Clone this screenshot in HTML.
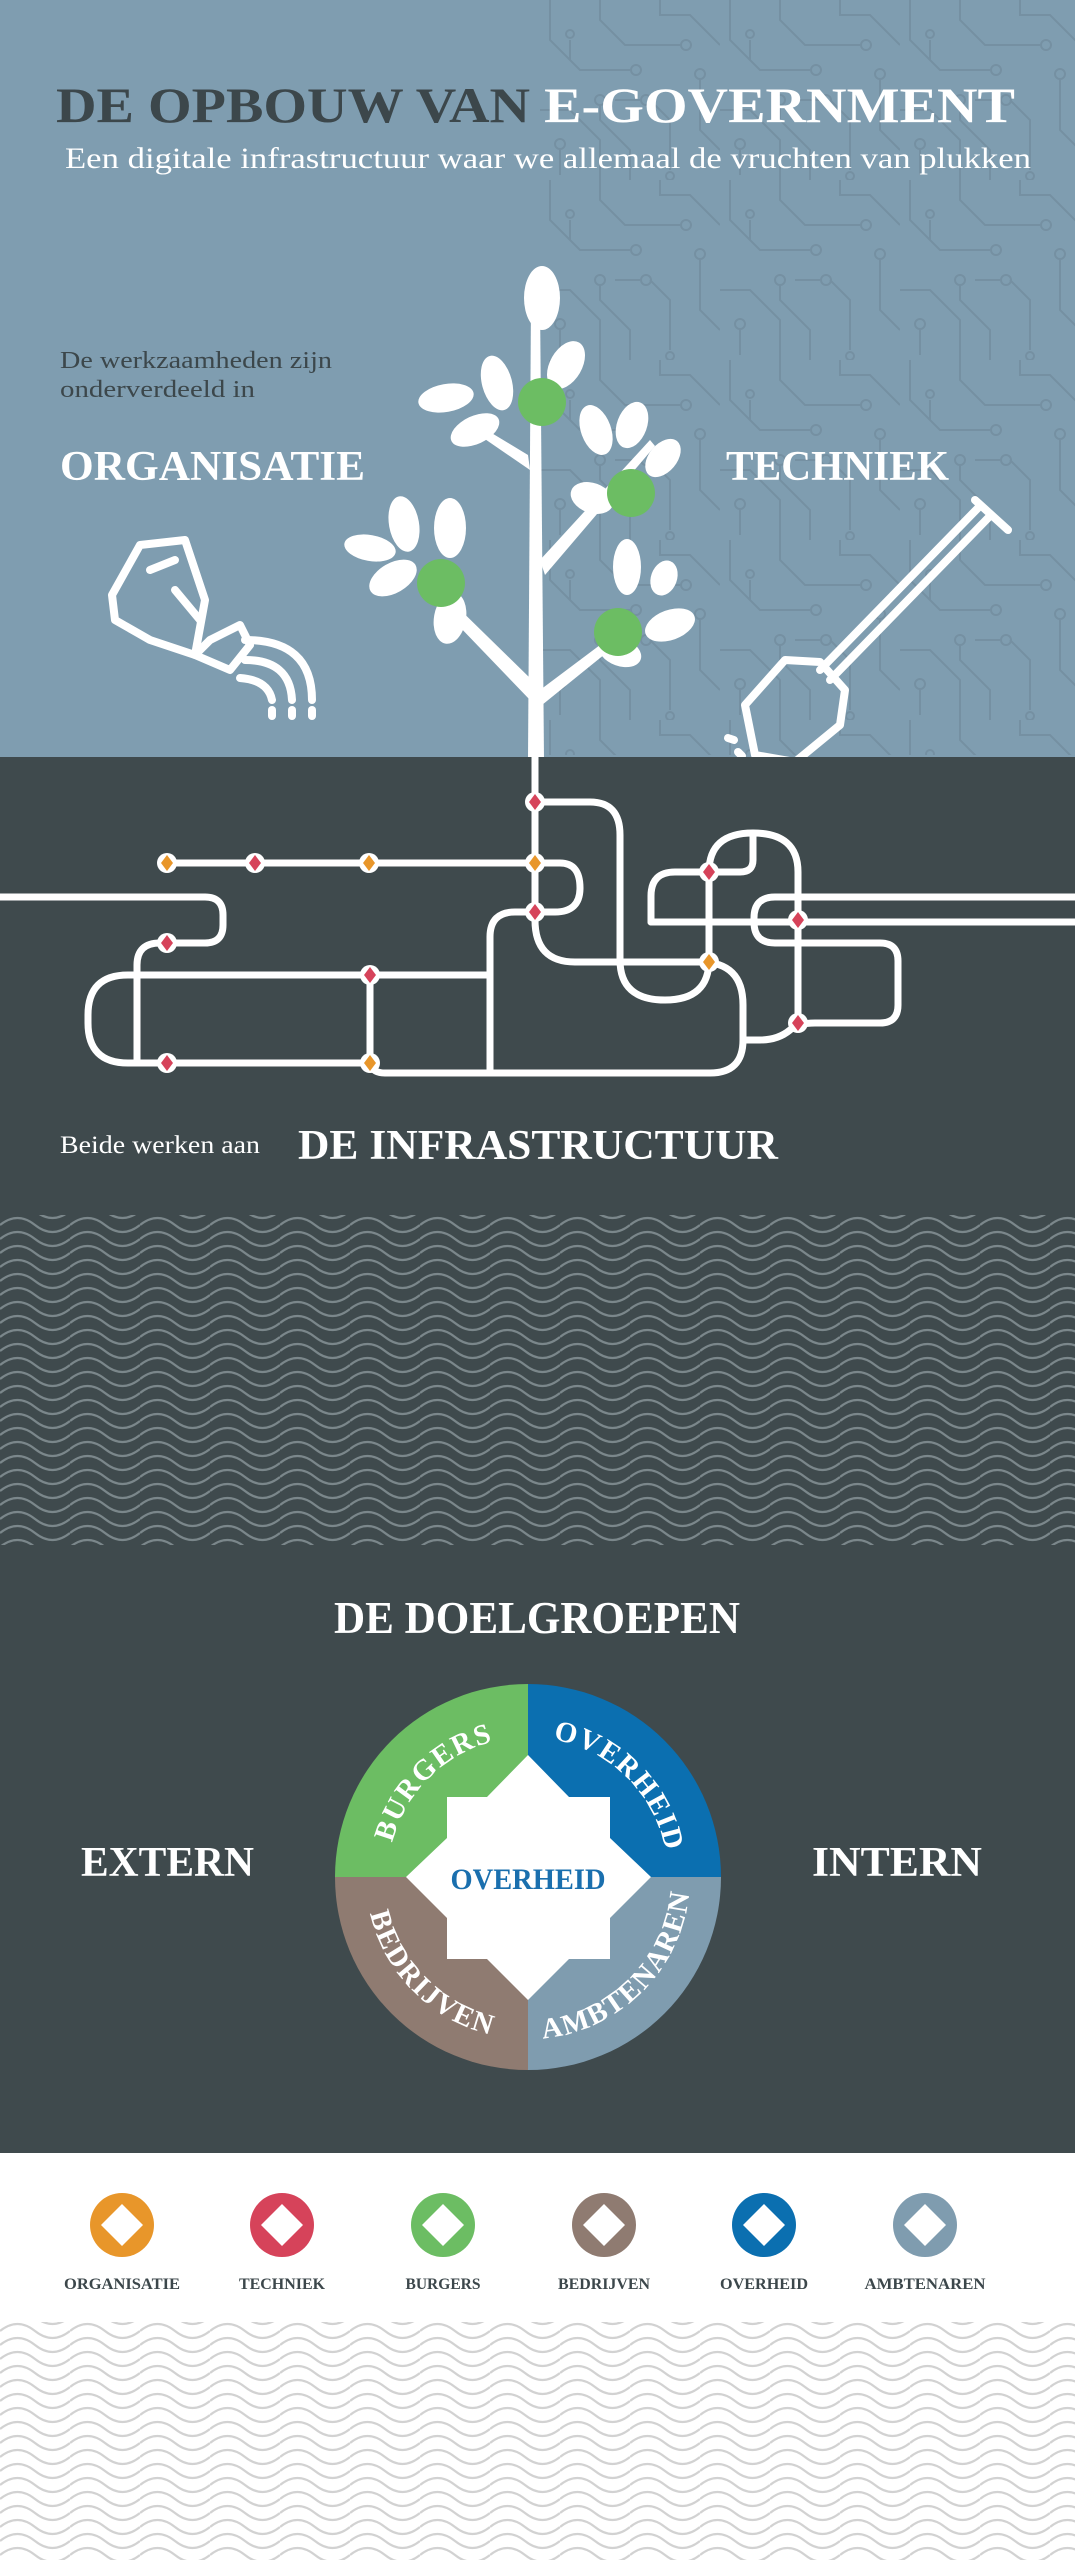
<!DOCTYPE html>
<html><head><meta charset="utf-8"><style>
html,body{margin:0;padding:0;background:#fff}
svg{display:block}
text{font-family:"Liberation Serif",serif}
.b{font-weight:bold}
</style></head><body>
<svg width="1075" height="2560" viewBox="0 0 1075 2560" xmlns="http://www.w3.org/2000/svg">
<defs>
<pattern id="circ" width="180" height="180" patternUnits="userSpaceOnUse">
<g fill="none" stroke="#7590a2" stroke-width="2">
<path d="M10 0 V40 L40 70 H90"/><circle cx="96" cy="70" r="5"/>
<path d="M60 0 V20 L85 45 H140"/><circle cx="146" cy="45" r="5"/>
<path d="M120 0 V15 L150 15 L180 45"/>
<path d="M0 110 H30 L60 140 V180"/><circle cx="60" cy="100" r="5"/><path d="M60 105 V120 L90 150 V180"/>
<path d="M110 100 L130 120 V170"/><circle cx="130" cy="176" r="4"/>
<path d="M160 80 V130 L180 150"/><circle cx="160" cy="74" r="5"/>
<path d="M20 150 V175"/><circle cx="20" cy="144" r="5"/>
<path d="M100 100 H75"/><circle cx="106" cy="100" r="5"/>
<path d="M30 40 L30 60"/><circle cx="30" cy="34" r="4"/>
</g></pattern>
<pattern id="wd" width="70" height="14" patternUnits="userSpaceOnUse">
<g fill="none" stroke="#7b878b" stroke-width="2.2">
<path d="M0 7 q17.5 -14 35 0 t35 0"/><path d="M0 -7 q17.5 -14 35 0 t35 0"/><path d="M0 21 q17.5 -14 35 0 t35 0"/>
</g></pattern>
<pattern id="ww" width="70" height="14" patternUnits="userSpaceOnUse">
<g fill="none" stroke="#d2d2d2" stroke-width="2.2">
<path d="M0 7 q17.5 -14 35 0 t35 0"/><path d="M0 -7 q17.5 -14 35 0 t35 0"/><path d="M0 21 q17.5 -14 35 0 t35 0"/>
</g></pattern>
<clipPath id="topclip"><rect x="540" y="0" width="535" height="755"/></clipPath>
<g id="nr"><circle r="10" fill="#fff"/><path d="M0 -8 L6 0 L0 8 L-6 0Z" fill="#d6435a"/></g>
<g id="no"><circle r="10" fill="#fff"/><path d="M0 -8 L6 0 L0 8 L-6 0Z" fill="#e8962a"/></g>
</defs>

<rect x="0" y="0" width="1075" height="757" fill="#7f9db0"/>
<rect x="540" y="0" width="535" height="757" fill="url(#circ)" clip-path="url(#topclip)"/>

<text x="56" y="122" font-size="50" class="b" textLength="959" lengthAdjust="spacingAndGlyphs" fill="#3c474b"><tspan>DE OPBOUW VAN </tspan><tspan fill="#fff">E-GOVERNMENT</tspan></text>
<text x="65" y="168" font-size="30" fill="#fff" textLength="966" lengthAdjust="spacingAndGlyphs">Een digitale infrastructuur waar we allemaal de vruchten van plukken</text>
<text x="60" y="368" font-size="24" fill="#3c474b" textLength="272" lengthAdjust="spacingAndGlyphs">De werkzaamheden zijn</text>
<text x="60" y="397" font-size="24" fill="#3c474b" textLength="195" lengthAdjust="spacingAndGlyphs">onderverdeeld in</text>
<text x="60" y="480" font-size="42" class="b" fill="#fff" textLength="305" lengthAdjust="spacingAndGlyphs">ORGANISATIE</text>
<text x="726" y="480" font-size="42" class="b" fill="#fff" textLength="223" lengthAdjust="spacingAndGlyphs">TECHNIEK</text>

<g fill="#fff">
<path d="M531 300 L540 300 L544 760 L528 760 Z"/>
<path d="M540 560 L650 440 L655 446 L545 575Z"/>
<path d="M528 455 L470 420 L466 426 L530 470Z"/>
<path d="M532 680 L440 590 L432 598 L530 700Z"/>
<path d="M540 690 L620 630 L626 637 L542 705Z"/>
<ellipse cx="542" cy="298" rx="18" ry="32"/>
<ellipse cx="566" cy="365" rx="16" ry="26" transform="rotate(30 566 365)"/>
<ellipse cx="497" cy="383" rx="15" ry="28" transform="rotate(-15 497 383)"/>
<ellipse cx="446" cy="398" rx="28" ry="14" transform="rotate(-10 446 398)"/>
<ellipse cx="475" cy="430" rx="26" ry="14" transform="rotate(-25 475 430)"/>
<ellipse cx="596" cy="430" rx="15" ry="26" transform="rotate(-20 596 430)"/>
<ellipse cx="632" cy="425" rx="15" ry="24" transform="rotate(20 632 425)"/>
<ellipse cx="663" cy="458" rx="14" ry="22" transform="rotate(40 663 458)"/>
<ellipse cx="592" cy="498" rx="22" ry="15" transform="rotate(20 592 498)"/>
<ellipse cx="404" cy="524" rx="15" ry="28" transform="rotate(-10 404 524)"/>
<ellipse cx="450" cy="528" rx="16" ry="30"/>
<ellipse cx="370" cy="548" rx="26" ry="13" transform="rotate(10 370 548)"/>
<ellipse cx="393" cy="578" rx="26" ry="15" transform="rotate(-30 393 578)"/>
<ellipse cx="450" cy="618" rx="16" ry="26" transform="rotate(10 450 618)"/>
<ellipse cx="627" cy="567" rx="14" ry="28"/>
<ellipse cx="664" cy="578" rx="13" ry="18" transform="rotate(20 664 578)"/>
<ellipse cx="670" cy="625" rx="26" ry="15" transform="rotate(-20 670 625)"/>
<ellipse cx="620" cy="652" rx="22" ry="14" transform="rotate(20 620 652)"/>
</g>
<g fill="#6cbd63">
<circle cx="542" cy="402" r="24"/><circle cx="631" cy="493" r="24"/><circle cx="441" cy="583" r="24"/><circle cx="618" cy="632" r="24"/>
</g>

<g fill="none" stroke="#fff" stroke-width="8" stroke-linejoin="round" stroke-linecap="round">
<path d="M140 545 L185 540 L205 600 L195 655 L150 640 L115 620 L112 595 Z"/>
<path d="M150 570 L175 560"/><path d="M175 590 L200 620"/>
<path d="M195 655 L210 640 L240 625 L250 645 L230 670 Z"/>
<path d="M245 640 Q312 640 312 700"/><path d="M245 660 Q290 660 292 700"/><path d="M240 678 Q268 680 272 700"/>
<path d="M272 710 V716"/><path d="M292 710 V716"/><path d="M312 710 V716"/>
</g>
<g fill="none" stroke="#fff" stroke-width="8" stroke-linejoin="round" stroke-linecap="round">
<path d="M975 500 L1008 530"/>
<path d="M990 516 L830 680"/><path d="M978 508 L820 670"/>
<path d="M820 662 L785 660 L745 705 L755 755 L795 762 L840 725 L845 690 Z"/>
<path d="M738 752 L742 756"/><path d="M750 770 L752 776"/><path d="M728 738 L734 740"/>
</g>

<rect x="0" y="757" width="1075" height="1396" fill="#3f4a4d"/>
<rect x="532" y="740" width="6" height="20" fill="#fff"/>

<g fill="none" stroke="#fff" stroke-width="7" stroke-linecap="round" stroke-linejoin="round">
<path d="M535 740 V920 Q535 962 575 962 H700 Q743 962 743 1005 V1040 Q743 1073 710 1073 H385 Q370 1073 370 1060"/>
<path d="M535 802 H590 Q620 802 620 835 V960 Q620 1000 665 1000 Q709 1000 709 960 V872 Q709 833 753 833 Q798 833 798 872 V1023"/>
<path d="M167 863 H560 Q580 863 580 888 Q580 912 555 912 H515 Q490 912 490 937 V1073"/>
<path d="M0 897 H205 Q223 897 223 915 V925 Q223 943 205 943 H160 Q137 943 137 965 V1063 H370"/>
<path d="M490 975 H128 Q88 975 88 1015 V1023 Q88 1063 128 1063 H137"/>
<path d="M370 975 V1063"/>
<path d="M1075 897 H775 Q754 897 754 918 V922 Q754 943 775 943 H880 Q898 943 898 961 V1005 Q898 1023 880 1023 H815 Q798 1023 790 1030 Q778 1040 760 1040 H743"/>
<path d="M1075 922 H651"/>
<path d="M709 872 H675 Q651 872 651 896 V922"/>
<path d="M753 833 V860 Q753 872 740 872 H709"/>
</g>
<use href="#nr" x="535" y="802"/>
<use href="#no" x="167" y="863"/><use href="#nr" x="255" y="863"/><use href="#no" x="369" y="863"/><use href="#no" x="535" y="863"/>
<use href="#nr" x="535" y="912"/>
<use href="#nr" x="709" y="872"/><use href="#nr" x="798" y="920"/><use href="#no" x="709" y="962"/><use href="#nr" x="798" y="1023"/>
<use href="#nr" x="167" y="943"/><use href="#nr" x="370" y="975"/><use href="#nr" x="167" y="1063"/><use href="#no" x="370" y="1063"/>

<text x="60" y="1153" font-size="25" fill="#fff" textLength="200" lengthAdjust="spacingAndGlyphs">Beide werken aan</text>
<text x="298" y="1159" font-size="42" class="b" fill="#fff" textLength="480" lengthAdjust="spacingAndGlyphs">DE INFRASTRUCTUUR</text>

<rect x="0" y="1215" width="1075" height="330" fill="url(#wd)"/>

<text x="334" y="1633" font-size="46" class="b" fill="#fff" textLength="406" lengthAdjust="spacingAndGlyphs">DE  DOELGROEPEN</text>
<text x="81" y="1876" font-size="42" class="b" fill="#fff" textLength="173" lengthAdjust="spacingAndGlyphs">EXTERN</text>
<text x="812" y="1876" font-size="42" class="b" fill="#fff" textLength="170" lengthAdjust="spacingAndGlyphs">INTERN</text>

<path d="M335 1877 A193 193 0 0 1 528 1684 V1877Z" fill="#6cbd63"/>
<path d="M528 1684 A193 193 0 0 1 721 1877 H528Z" fill="#0b6fb0"/>
<path d="M721 1877 A193 193 0 0 1 528 2070 V1877Z" fill="#7f9caf"/>
<path d="M528 2070 A193 193 0 0 1 335 1877 H528Z" fill="#8f7b71"/>
<path d="M528 1755 L569 1797 H610 V1838 L651 1877 L610 1918 V1959 H569 L528 2000 L487 1959 H447 V1918 L406 1877 L447 1838 V1797 H487Z" fill="#fff"/>
<path id="a1" d="M388 1877 A140 140 0 0 1 528 1737" fill="none"/>
<path id="a2" d="M528 1737 A140 140 0 0 1 668 1877" fill="none"/>
<path id="a3" d="M366 1877 A162 162 0 0 0 528 2039" fill="none"/>
<path id="a4" d="M528 2039 A162 162 0 0 0 690 1877" fill="none"/>
<g font-size="29" class="b" fill="#fff" letter-spacing="1.5" text-anchor="middle">
<text><textPath href="#a1" startOffset="50%">BURGERS</textPath></text>
<text><textPath href="#a2" startOffset="50%">OVERHEID</textPath></text>
<text><textPath href="#a3" startOffset="50%">BEDRIJVEN</textPath></text>
<text><textPath href="#a4" startOffset="50%">AMBTENAREN</textPath></text>
</g>
<text x="528" y="1889" font-size="30" class="b" fill="#1a6fae" text-anchor="middle" textLength="155" lengthAdjust="spacingAndGlyphs">OVERHEID</text>

<g>
<circle cx="122" cy="2225" r="32" fill="#e8962a"/>
<circle cx="282" cy="2225" r="32" fill="#d6435a"/>
<circle cx="443" cy="2225" r="32" fill="#6cbd63"/>
<circle cx="604" cy="2225" r="32" fill="#8f7b71"/>
<circle cx="764" cy="2225" r="32" fill="#0b6fb0"/>
<circle cx="925" cy="2225" r="32" fill="#7f9caf"/>
<g fill="#fff">
<path d="M122 2204 L143 2225 L122 2246 L101 2225Z"/>
<path d="M282 2204 L303 2225 L282 2246 L261 2225Z"/>
<path d="M443 2204 L464 2225 L443 2246 L422 2225Z"/>
<path d="M604 2204 L625 2225 L604 2246 L583 2225Z"/>
<path d="M764 2204 L785 2225 L764 2246 L743 2225Z"/>
<path d="M925 2204 L946 2225 L925 2246 L904 2225Z"/>
</g>
<g font-size="16" class="b" fill="#3c474b" text-anchor="middle">
<text x="122" y="2289" textLength="116" lengthAdjust="spacingAndGlyphs">ORGANISATIE</text>
<text x="282" y="2289" textLength="86" lengthAdjust="spacingAndGlyphs">TECHNIEK</text>
<text x="443" y="2289" textLength="75" lengthAdjust="spacingAndGlyphs">BURGERS</text>
<text x="604" y="2289" textLength="92" lengthAdjust="spacingAndGlyphs">BEDRIJVEN</text>
<text x="764" y="2289" textLength="88" lengthAdjust="spacingAndGlyphs">OVERHEID</text>
<text x="925" y="2289" textLength="121" lengthAdjust="spacingAndGlyphs">AMBTENAREN</text>
</g>
</g>
<rect x="0" y="2322" width="1075" height="238" fill="url(#ww)"/>
</svg>
</body></html>
